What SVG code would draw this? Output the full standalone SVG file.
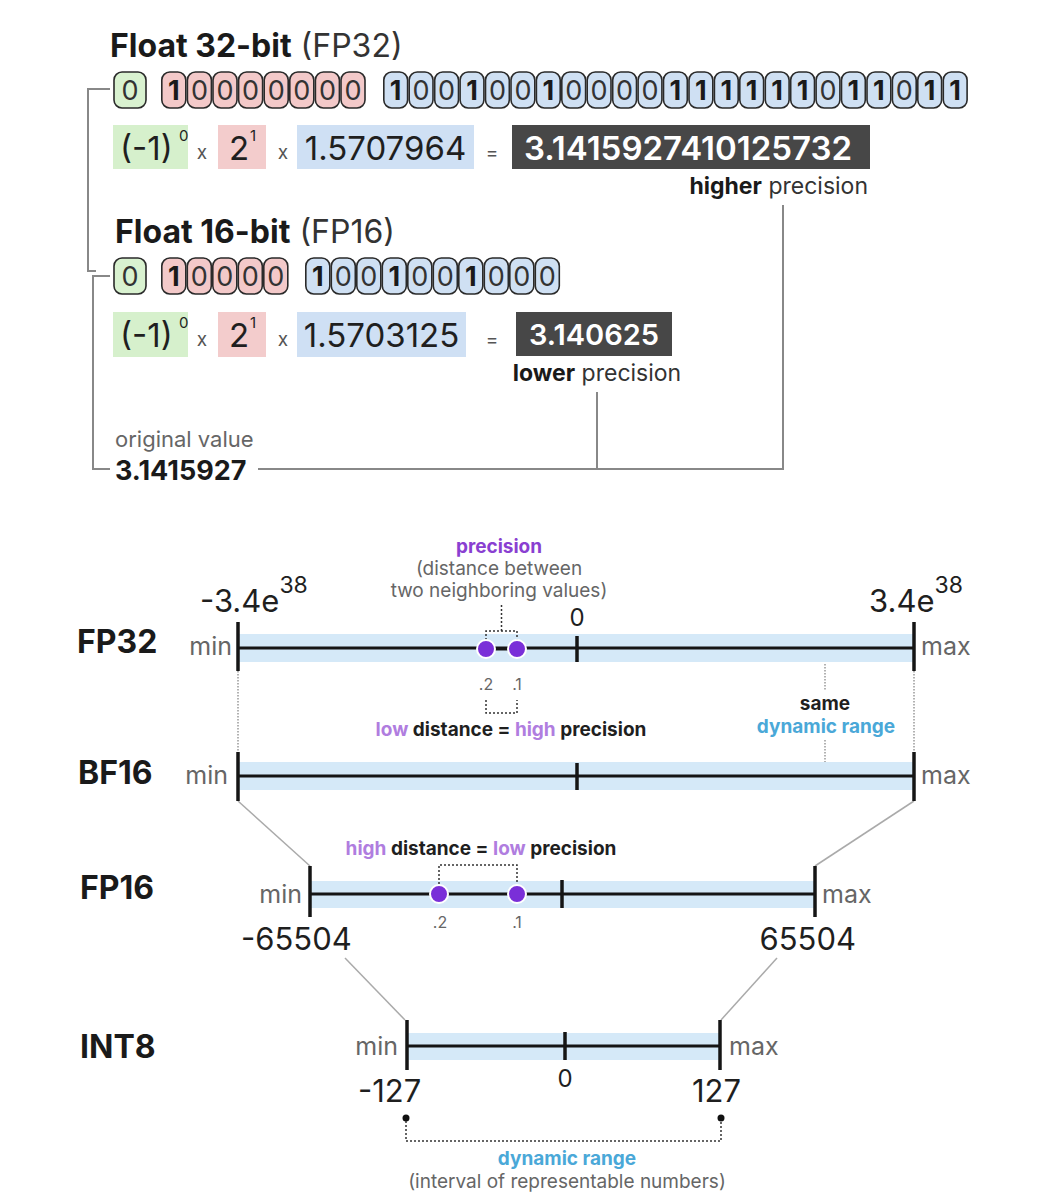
<svg xmlns="http://www.w3.org/2000/svg" width="1047" height="1201" viewBox="0 0 1047 1201">
<style>
text{font-family:Inter,"Noto Sans","Liberation Sans",sans-serif;}
.title{font-size:32px;fill:#1a1a1a;}
.b{font-weight:700;}
.r{font-weight:400;fill:#333;}
.cs{fill:#d9f2d0;stroke:#2a2a2a;stroke-width:1.6;}
.ce{fill:#f3c9c9;stroke:#2a2a2a;stroke-width:1.6;}
.cm{fill:#cfe0f3;stroke:#2a2a2a;stroke-width:1.6;}
.bit{font-size:27px;fill:#1a1a1a;text-anchor:middle;}
.one{font-weight:700;}
.zero{font-weight:400;fill:#333;}
.fg{fill:#d6f0cc;}
.fr{fill:#f3cccc;}
.fb{fill:#cfe0f4;}
.fd{fill:#474747;}
.ft{font-size:33px;fill:#1f1f1f;}
.sup{font-size:15px;fill:#1f1f1f;}
.op{font-size:19px;fill:#555;text-anchor:middle;}
.res{font-size:33px;fill:#fff;font-weight:600;text-anchor:middle;}
.note{font-size:23px;fill:#333;}
.conn{fill:none;stroke:#888;stroke-width:2;}
.lbl{font-size:32px;font-weight:700;fill:#1a1a1a;}
.mm{font-size:25px;fill:#666;}
.band{fill:#d5e9f8;}
.axis{stroke:#151515;stroke-width:3;}
.tick{stroke:#151515;stroke-width:3.5;}
.num{font-size:31px;fill:#1f1f1f;}
.numsup{font-size:23px;fill:#1f1f1f;}
.zero0{font-size:24px;fill:#1f1f1f;text-anchor:middle;}
.dot{fill:#7a2fd8;stroke:#fff;stroke-width:2;}
.pt{font-size:16px;fill:#666;text-anchor:middle;}
.dotted{fill:none;stroke:#333;stroke-width:1.5;stroke-dasharray:2 2;}
.gdotted{fill:none;stroke:#999;stroke-width:1.5;stroke-dasharray:1.5 1.5;}
.diag{stroke:#aaa;stroke-width:1.5;}
.ann{font-size:19px;text-anchor:middle;}
.dk{fill:#1f1f1f;font-weight:700;}
.pl{fill:#b07ddf;font-weight:700;}
.pu{fill:#8a3fd1;font-weight:700;}
.bl{fill:#4aa8d8;font-weight:700;}
.gr{fill:#666;font-weight:400;}
</style>

<g id="connectors">
<path class="conn" d="M110,89 H88 V271 H96"/>
<path class="conn" d="M110,276 H93 V469 H110"/>
<path class="conn" d="M258,469 H783 V205"/>
<path class="conn" d="M597,392 V469"/>
</g>

<g id="fp32-title"><text class="title" x="110" y="57"><tspan class="b">Float 32-bit</tspan> <tspan class="r">(FP32)</tspan></text></g>

<g id="fp32-sign">
<rect class="cs" x="114" y="72" width="32" height="36" rx="8"/>
<text class="bit zero" x="130" y="100">0</text>
</g>
<g id="fp32-exponent">
<rect class="ce" x="161.8" y="72" width="24" height="36" rx="8"/><text class="bit one" x="173.8" y="100">1</text>
<rect class="ce" x="187.4" y="72" width="24" height="36" rx="8"/><text class="bit zero" x="199.4" y="100">0</text>
<rect class="ce" x="213" y="72" width="24" height="36" rx="8"/><text class="bit zero" x="225" y="100">0</text>
<rect class="ce" x="238.6" y="72" width="24" height="36" rx="8"/><text class="bit zero" x="250.6" y="100">0</text>
<rect class="ce" x="264.2" y="72" width="24" height="36" rx="8"/><text class="bit zero" x="276.2" y="100">0</text>
<rect class="ce" x="289.8" y="72" width="24" height="36" rx="8"/><text class="bit zero" x="301.8" y="100">0</text>
<rect class="ce" x="315.4" y="72" width="24" height="36" rx="8"/><text class="bit zero" x="327.4" y="100">0</text>
<rect class="ce" x="341" y="72" width="24" height="36" rx="8"/><text class="bit zero" x="353" y="100">0</text>
</g>
<g id="fp32-mantissa">
<rect class="cm" x="383.8" y="72" width="23.8" height="36" rx="8"/><text class="bit one" x="395.7" y="100">1</text>
<rect class="cm" x="409.2" y="72" width="23.8" height="36" rx="8"/><text class="bit zero" x="421.1" y="100">0</text>
<rect class="cm" x="434.7" y="72" width="23.8" height="36" rx="8"/><text class="bit zero" x="446.6" y="100">0</text>
<rect class="cm" x="460.1" y="72" width="23.8" height="36" rx="8"/><text class="bit one" x="472" y="100">1</text>
<rect class="cm" x="485.5" y="72" width="23.8" height="36" rx="8"/><text class="bit zero" x="497.4" y="100">0</text>
<rect class="cm" x="511" y="72" width="23.8" height="36" rx="8"/><text class="bit zero" x="522.9" y="100">0</text>
<rect class="cm" x="536.4" y="72" width="23.8" height="36" rx="8"/><text class="bit one" x="548.3" y="100">1</text>
<rect class="cm" x="561.8" y="72" width="23.8" height="36" rx="8"/><text class="bit zero" x="573.7" y="100">0</text>
<rect class="cm" x="587.2" y="72" width="23.8" height="36" rx="8"/><text class="bit zero" x="599.1" y="100">0</text>
<rect class="cm" x="612.7" y="72" width="23.8" height="36" rx="8"/><text class="bit zero" x="624.6" y="100">0</text>
<rect class="cm" x="638.1" y="72" width="23.8" height="36" rx="8"/><text class="bit zero" x="650" y="100">0</text>
<rect class="cm" x="663.5" y="72" width="23.8" height="36" rx="8"/><text class="bit one" x="675.4" y="100">1</text>
<rect class="cm" x="689" y="72" width="23.8" height="36" rx="8"/><text class="bit one" x="700.9" y="100">1</text>
<rect class="cm" x="714.4" y="72" width="23.8" height="36" rx="8"/><text class="bit one" x="726.3" y="100">1</text>
<rect class="cm" x="739.8" y="72" width="23.8" height="36" rx="8"/><text class="bit one" x="751.7" y="100">1</text>
<rect class="cm" x="765.3" y="72" width="23.8" height="36" rx="8"/><text class="bit one" x="777.2" y="100">1</text>
<rect class="cm" x="790.7" y="72" width="23.8" height="36" rx="8"/><text class="bit one" x="802.6" y="100">1</text>
<rect class="cm" x="816.1" y="72" width="23.8" height="36" rx="8"/><text class="bit zero" x="828" y="100">0</text>
<rect class="cm" x="841.5" y="72" width="23.8" height="36" rx="8"/><text class="bit one" x="853.4" y="100">1</text>
<rect class="cm" x="867" y="72" width="23.8" height="36" rx="8"/><text class="bit one" x="878.9" y="100">1</text>
<rect class="cm" x="892.4" y="72" width="23.8" height="36" rx="8"/><text class="bit zero" x="904.3" y="100">0</text>
<rect class="cm" x="917.8" y="72" width="23.8" height="36" rx="8"/><text class="bit one" x="929.7" y="100">1</text>
<rect class="cm" x="943.3" y="72" width="23.8" height="36" rx="8"/><text class="bit one" x="955.2" y="100">1</text>
</g>

<g id="fp32-formula">
<rect class="fg" x="113" y="125" width="75" height="44"/>
<text class="ft" x="120" y="160">(-1)</text><text class="sup" x="179" y="141">0</text>
<text class="op" x="202" y="159">x</text>
<rect class="fr" x="218" y="125" width="48" height="44"/>
<text class="ft" x="229" y="160">2</text><text class="sup" x="250" y="141">1</text>
<text class="op" x="283" y="159">x</text>
<rect class="fb" x="297" y="125" width="177" height="44"/>
<text class="ft" x="385.5" y="160" text-anchor="middle">1.5707964</text>
<text class="op" x="492" y="159">=</text>
<rect class="fd" x="512" y="125" width="358" height="44"/>
<text class="res" x="688" y="160">3.1415927410125732</text>
<text class="note" x="868" y="194" text-anchor="end"><tspan class="b" fill="#1a1a1a">higher</tspan> precision</text>
</g>

<g id="fp16-title"><text class="title" x="115" y="243"><tspan class="b">Float 16-bit</tspan> <tspan class="r">(FP16)</tspan></text></g>

<g id="fp16-sign">
<rect class="cs" x="114" y="258" width="32" height="36" rx="8"/>
<text class="bit zero" x="130" y="286">0</text>
</g>
<g id="fp16-exponent">
<rect class="ce" x="161.8" y="258" width="24" height="36" rx="8"/><text class="bit one" x="173.8" y="286">1</text>
<rect class="ce" x="187.3" y="258" width="24" height="36" rx="8"/><text class="bit zero" x="199.3" y="286">0</text>
<rect class="ce" x="212.8" y="258" width="24" height="36" rx="8"/><text class="bit zero" x="224.8" y="286">0</text>
<rect class="ce" x="238.3" y="258" width="24" height="36" rx="8"/><text class="bit zero" x="250.3" y="286">0</text>
<rect class="ce" x="263.8" y="258" width="24" height="36" rx="8"/><text class="bit zero" x="275.8" y="286">0</text>
</g>
<g id="fp16-mantissa">
<rect class="cm" x="305.8" y="258" width="24" height="36" rx="8"/><text class="bit one" x="317.8" y="286">1</text>
<rect class="cm" x="331.3" y="258" width="24" height="36" rx="8"/><text class="bit zero" x="343.3" y="286">0</text>
<rect class="cm" x="356.8" y="258" width="24" height="36" rx="8"/><text class="bit zero" x="368.8" y="286">0</text>
<rect class="cm" x="382.3" y="258" width="24" height="36" rx="8"/><text class="bit one" x="394.3" y="286">1</text>
<rect class="cm" x="407.8" y="258" width="24" height="36" rx="8"/><text class="bit zero" x="419.8" y="286">0</text>
<rect class="cm" x="433.3" y="258" width="24" height="36" rx="8"/><text class="bit zero" x="445.3" y="286">0</text>
<rect class="cm" x="458.8" y="258" width="24" height="36" rx="8"/><text class="bit one" x="470.8" y="286">1</text>
<rect class="cm" x="484.3" y="258" width="24" height="36" rx="8"/><text class="bit zero" x="496.3" y="286">0</text>
<rect class="cm" x="509.8" y="258" width="24" height="36" rx="8"/><text class="bit zero" x="521.8" y="286">0</text>
<rect class="cm" x="535.3" y="258" width="24" height="36" rx="8"/><text class="bit zero" x="547.3" y="286">0</text>
</g>

<g id="fp16-formula">
<rect class="fg" x="113" y="312" width="75" height="45"/>
<text class="ft" x="120" y="347">(-1)</text><text class="sup" x="179" y="328">0</text>
<text class="op" x="202" y="346">x</text>
<rect class="fr" x="218" y="312" width="48" height="45"/>
<text class="ft" x="229" y="347">2</text><text class="sup" x="250" y="328">1</text>
<text class="op" x="283" y="346">x</text>
<rect class="fb" x="297" y="312" width="169" height="45"/>
<text class="ft" x="381.5" y="347" text-anchor="middle">1.5703125</text>
<text class="op" x="492" y="346">=</text>
<rect class="fd" x="516" y="312" width="156" height="44"/>
<text class="res" x="594" y="345" style="font-size:29px">3.140625</text>
<text class="note" x="597" y="381" text-anchor="middle"><tspan class="b" fill="#1a1a1a">lower</tspan> precision</text>
</g>

<g id="original-value">
<text x="115" y="447" font-size="22" fill="#666">original value</text>
<text x="115" y="480" font-size="27" font-weight="700" fill="#1a1a1a">3.1415927</text>
</g>

<g id="range-guides">
<line class="gdotted" x1="238" y1="671" x2="238" y2="752"/>
<line class="gdotted" x1="914" y1="671" x2="914" y2="752"/>
<line class="gdotted" x1="825" y1="664" x2="825" y2="690"/>
<line class="gdotted" x1="825" y1="740" x2="825" y2="763"/>
<line class="diag" x1="238" y1="801" x2="310" y2="866"/>
<line class="diag" x1="914" y1="801" x2="815" y2="866"/>
<line class="diag" x1="345" y1="958" x2="405" y2="1020"/>
<line class="diag" x1="777" y1="958" x2="721" y2="1020"/>
</g>

<g id="fp32-axis">
<text class="lbl" x="77" y="653">FP32</text>
<text class="mm" x="232" y="655" text-anchor="end">min</text>
<text class="mm" x="921" y="655">max</text>
<rect class="band" x="238" y="634" width="676" height="28"/>
<line class="axis" x1="238" y1="648" x2="914" y2="648"/>
<line class="tick" x1="238" y1="622" x2="238" y2="671"/>
<line class="tick" x1="914" y1="622" x2="914" y2="671"/>
<line class="tick" x1="577" y1="636" x2="577" y2="662"/>
<text class="num" x="200" y="612">-3.4e<tspan class="numsup" dy="-19">38</tspan></text>
<text class="num" x="963" y="612" text-anchor="end">3.4e<tspan class="numsup" dy="-19">38</tspan></text>
<text class="zero0" x="577" y="626">0</text>
</g>

<g id="fp32-precision">
<path class="dotted" d="M486,640 V631 H517 V640 M501.5,631 V604"/>
<text class="ann" x="499" y="553"><tspan class="pu">precision</tspan></text>
<text class="ann gr" x="499" y="575">(distance between</text>
<text class="ann gr" x="499" y="597">two neighboring values)</text>
<line class="axis" x1="486" y1="649" x2="517" y2="649"/>
<circle class="dot" cx="486" cy="649" r="9"/>
<circle class="dot" cx="517" cy="649" r="9"/>
<text class="pt" x="486" y="690">.2</text>
<text class="pt" x="517" y="690">.1</text>
<path class="dotted" d="M486,700 V713 H517 V700"/>
<text class="ann" x="511" y="736"><tspan class="pl">low</tspan><tspan class="dk"> distance = </tspan><tspan class="pl">high</tspan><tspan class="dk"> precision</tspan></text>
</g>

<g id="same-range">
<text class="ann dk" x="825" y="710">same</text>
<text class="ann bl" x="826" y="733">dynamic range</text>
</g>

<g id="bf16-axis">
<text class="lbl" x="78" y="784">BF16</text>
<text class="mm" x="228" y="784" text-anchor="end">min</text>
<text class="mm" x="921" y="784">max</text>
<rect class="band" x="238" y="762" width="676" height="28"/>
<line class="axis" x1="238" y1="776" x2="914" y2="776"/>
<line class="tick" x1="238" y1="752" x2="238" y2="801"/>
<line class="tick" x1="914" y1="752" x2="914" y2="801"/>
<line class="tick" x1="577" y1="763" x2="577" y2="790"/>
</g>

<g id="fp16-axis">
<text class="lbl" x="80" y="899">FP16</text>
<text class="mm" x="302" y="903" text-anchor="end">min</text>
<text class="mm" x="822" y="903">max</text>
<rect class="band" x="310" y="881" width="505" height="27"/>
<line class="axis" x1="310" y1="894" x2="815" y2="894"/>
<line class="tick" x1="310" y1="866" x2="310" y2="917"/>
<line class="tick" x1="815" y1="866" x2="815" y2="917"/>
<line class="tick" x1="562" y1="880" x2="562" y2="908"/>
<text class="num" x="241" y="950">-65504</text>
<text class="num" x="856" y="950" text-anchor="end">65504</text>
</g>

<g id="fp16-precision">
<text class="ann" x="481" y="855"><tspan class="pl">high</tspan><tspan class="dk"> distance = </tspan><tspan class="pl">low</tspan><tspan class="dk"> precision</tspan></text>
<path class="dotted" d="M439,884 V865 H517 V884"/>
<circle class="dot" cx="439" cy="894" r="9"/>
<circle class="dot" cx="517" cy="894" r="9"/>
<text class="pt" x="440" y="928">.2</text>
<text class="pt" x="517" y="928">.1</text>
</g>

<g id="int8-axis">
<text class="lbl" x="80" y="1058">INT8</text>
<text class="mm" x="398" y="1055" text-anchor="end">min</text>
<text class="mm" x="729" y="1055">max</text>
<rect class="band" x="407" y="1033" width="313" height="27"/>
<line class="axis" x1="407" y1="1046" x2="720" y2="1046"/>
<line class="tick" x1="407" y1="1020" x2="407" y2="1070"/>
<line class="tick" x1="720" y1="1020" x2="720" y2="1070"/>
<line class="tick" x1="565" y1="1032" x2="565" y2="1060"/>
<text class="zero0" x="565" y="1087">0</text>
<text class="num" x="358" y="1102">-127</text>
<text class="num" x="741" y="1102" text-anchor="end">127</text>
</g>

<g id="dynamic-range">
<circle cx="406" cy="1118" r="3.5" fill="#111"/>
<circle cx="721" cy="1118" r="3.5" fill="#111"/>
<path class="dotted" d="M406,1121 V1141 H721 V1121"/>
<text class="ann bl" x="567" y="1165">dynamic range</text>
<text class="ann gr" x="567" y="1188">(interval of representable numbers)</text>
</g>
</svg>
